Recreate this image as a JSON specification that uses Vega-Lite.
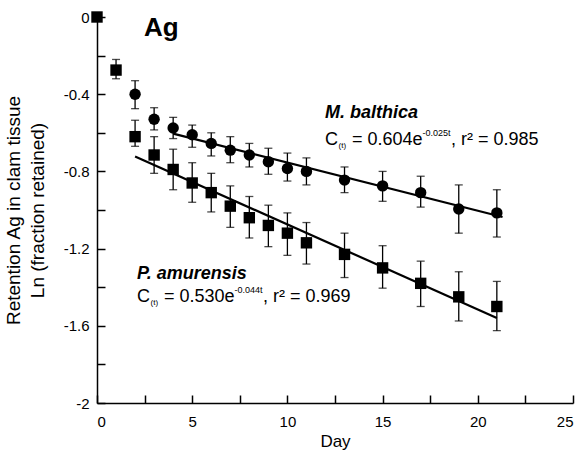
{
  "$schema": "https://vega.github.io/schema/vega-lite/v6.json",
  "autosize": {"type": "none"},
  "padding": {"left": 97, "top": 17, "right": 10, "bottom": 49},
  "width": 476,
  "height": 386,
  "background": "white",
  "config": {
    "view": {"stroke": null},
    "font": "Liberation Sans",
    "axis": {
      "domainColor": "black", "domainWidth": 1.5, "tickColor": "black", "tickWidth": 1.5,
      "labelColor": "black", "titleColor": "black", "labelFont": "Liberation Sans", "titleFont": "Liberation Sans",
      "labelFontSize": 15, "titleFontSize": 17, "titleFontWeight": "normal", "grid": false
    }
  },
  "resolve": {"axis": {"x": "independent", "y": "independent"}},
  "datasets": {
    "obs": [
      {"species": "P. amurensis", "day": 0, "mean": 0},
      {"species": "P. amurensis", "day": 1, "mean": -0.275, "lo": -0.22, "hi": -0.32},
      {"species": "P. amurensis", "day": 2, "mean": -0.62, "lo": -0.535, "hi": -0.67},
      {"species": "P. amurensis", "day": 3, "mean": -0.715, "lo": -0.62, "hi": -0.81},
      {"species": "P. amurensis", "day": 4, "mean": -0.79, "lo": -0.685, "hi": -0.895},
      {"species": "P. amurensis", "day": 5, "mean": -0.86, "lo": -0.755, "hi": -0.96},
      {"species": "P. amurensis", "day": 6, "mean": -0.91, "lo": -0.81, "hi": -1.01},
      {"species": "P. amurensis", "day": 7, "mean": -0.98, "lo": -0.875, "hi": -1.09},
      {"species": "P. amurensis", "day": 8, "mean": -1.04, "lo": -0.93, "hi": -1.145},
      {"species": "P. amurensis", "day": 9, "mean": -1.08, "lo": -0.975, "hi": -1.19},
      {"species": "P. amurensis", "day": 10, "mean": -1.12, "lo": -1.015, "hi": -1.235},
      {"species": "P. amurensis", "day": 11, "mean": -1.17, "lo": -1.065, "hi": -1.28},
      {"species": "P. amurensis", "day": 13, "mean": -1.23, "lo": -1.12, "hi": -1.35},
      {"species": "P. amurensis", "day": 15, "mean": -1.30, "lo": -1.185, "hi": -1.405},
      {"species": "P. amurensis", "day": 17, "mean": -1.38, "lo": -1.265, "hi": -1.50},
      {"species": "P. amurensis", "day": 19, "mean": -1.45, "lo": -1.32, "hi": -1.575},
      {"species": "P. amurensis", "day": 21, "mean": -1.50, "lo": -1.37, "hi": -1.625},
      {"species": "M. balthica", "day": 2, "mean": -0.40, "lo": -0.33, "hi": -0.475},
      {"species": "M. balthica", "day": 3, "mean": -0.53, "lo": -0.47, "hi": -0.585},
      {"species": "M. balthica", "day": 4, "mean": -0.575, "lo": -0.52, "hi": -0.63},
      {"species": "M. balthica", "day": 5, "mean": -0.61, "lo": -0.56, "hi": -0.675},
      {"species": "M. balthica", "day": 6, "mean": -0.655, "lo": -0.60, "hi": -0.72},
      {"species": "M. balthica", "day": 7, "mean": -0.69, "lo": -0.62, "hi": -0.755},
      {"species": "M. balthica", "day": 8, "mean": -0.715, "lo": -0.655, "hi": -0.777},
      {"species": "M. balthica", "day": 9, "mean": -0.75, "lo": -0.68, "hi": -0.815},
      {"species": "M. balthica", "day": 10, "mean": -0.785, "lo": -0.705, "hi": -0.85},
      {"species": "M. balthica", "day": 11, "mean": -0.80, "lo": -0.73, "hi": -0.87},
      {"species": "M. balthica", "day": 13, "mean": -0.845, "lo": -0.777, "hi": -0.91},
      {"species": "M. balthica", "day": 15, "mean": -0.875, "lo": -0.80, "hi": -0.955},
      {"species": "M. balthica", "day": 17, "mean": -0.91, "lo": -0.825, "hi": -0.985},
      {"species": "M. balthica", "day": 19, "mean": -0.995, "lo": -0.87, "hi": -1.12},
      {"species": "M. balthica", "day": 21, "mean": -1.015, "lo": -0.895, "hi": -1.14}
    ],
    "fits": [
      {"species": "M. balthica", "day": 4, "value": -0.604},
      {"species": "M. balthica", "day": 21.3, "value": -1.036},
      {"species": "P. amurensis", "day": 2, "value": -0.723},
      {"species": "P. amurensis", "day": 21, "value": -1.559}
    ],
    "panel": [{"text": "Ag", "x": 2.47, "y": -0.098}],
    "names": [
      {"text": "M. balthica", "x": 11.975, "y": -0.523},
      {"text": "P. amurensis", "x": 2.101, "y": -1.357}
    ],
    "eqmain": [
      {"text": "C", "x": 11.975, "y": -0.663},
      {"text": "= 0.604e", "x": 13.393, "y": -0.663},
      {"text": ", r² = 0.985", "x": 18.592, "y": -0.663},
      {"text": "C", "x": 2.101, "y": -1.477},
      {"text": "= 0.530e", "x": 3.519, "y": -1.477},
      {"text": ", r² = 0.969", "x": 8.718, "y": -1.477}
    ],
    "eqsub": [
      {"text": "(t)", "x": 12.684, "y": -0.679},
      {"text": "(t)", "x": 2.810, "y": -1.492}
    ],
    "eqsup": [
      {"text": "-0.025t", "x": 17.101, "y": -0.617},
      {"text": "-0.044t", "x": 7.227, "y": -1.430}
    ]
  },
  "layer": [
    {
      "data": {"name": "obs"},
      "transform": [{"filter": "isValid(datum.lo)"}],
      "mark": {"type": "rule", "color": "black", "strokeWidth": 1.3},
      "encoding": {
        "x": {"field": "day", "type": "quantitative", "scale": {"domain": [0, 25], "nice": false},
          "axis": {"title": "Day", "values": [0, 5, 10, 15, 20, 25], "ticks": false, "labelPadding": 11, "titlePadding": 4}},
        "y": {"field": "lo", "type": "quantitative", "scale": {"domain": [-2, 0], "nice": false},
          "axis": {"title": ["Retention Ag in clam tissue", "Ln (fraction retained)"], "titleFontSize": 19, "titleLineHeight": 24,
            "values": [0, -0.4, -0.8, -1.2, -1.6, -2],
            "labelExpr": "replace(format(datum.value, '~g'), '−', '-')",
            "ticks": false, "labelPadding": 8, "titlePadding": 16}},
        "y2": {"field": "hi"}
      }
    },
    {
      "data": {"name": "obs"},
      "transform": [{"filter": "isValid(datum.lo)"}],
      "mark": {"type": "tick", "orient": "horizontal", "color": "black", "size": 8, "thickness": 1.3},
      "encoding": {
        "x": {"field": "day", "type": "quantitative",
          "axis": {"orient": "top", "offset": -386, "values": [0, 2.5, 5, 7.5, 10, 12.5, 15, 17.5, 20, 22.5, 25], "labels": false, "domain": false, "title": null, "tickSize": 8}},
        "y": {"field": "lo", "type": "quantitative",
          "axis": {"orient": "right", "offset": -476, "values": [0, -0.2, -0.4, -0.6, -0.8, -1, -1.2, -1.4, -1.6, -1.8, -2], "labels": false, "domain": false, "title": null, "tickSize": 8}}
      }
    },
    {
      "data": {"name": "obs"},
      "transform": [{"filter": "isValid(datum.hi)"}],
      "mark": {"type": "tick", "orient": "horizontal", "color": "black", "size": 8, "thickness": 1.3},
      "encoding": {
        "x": {"field": "day", "type": "quantitative", "axis": null},
        "y": {"field": "hi", "type": "quantitative", "axis": null}
      }
    },
    {
      "data": {"name": "fits"},
      "mark": {"type": "line", "color": "black", "strokeWidth": 2.2},
      "encoding": {
        "x": {"field": "day", "type": "quantitative", "axis": null},
        "y": {"field": "value", "type": "quantitative", "axis": null},
        "detail": {"field": "species"}
      }
    },
    {
      "data": {"name": "obs"},
      "mark": {"type": "point", "filled": true, "color": "black", "opacity": 1, "size": 130},
      "encoding": {
        "x": {"field": "day", "type": "quantitative", "axis": null},
        "y": {"field": "mean", "type": "quantitative", "axis": null},
        "shape": {"field": "species", "type": "nominal", "scale": {"domain": ["M. balthica", "P. amurensis"], "range": ["circle", "square"]}, "legend": null}
      }
    },
    {
      "data": {"name": "panel"},
      "mark": {"type": "text", "font": "Liberation Sans", "fontSize": 26, "fontWeight": "bold", "align": "left", "baseline": "alphabetic", "color": "black"},
      "encoding": {"x": {"field": "x", "type": "quantitative", "axis": null}, "y": {"field": "y", "type": "quantitative", "axis": null}, "text": {"field": "text"}}
    },
    {
      "data": {"name": "names"},
      "mark": {"type": "text", "font": "Liberation Sans", "fontSize": 18, "fontWeight": "bold", "fontStyle": "italic", "align": "left", "baseline": "alphabetic", "color": "black"},
      "encoding": {"x": {"field": "x", "type": "quantitative", "axis": null}, "y": {"field": "y", "type": "quantitative", "axis": null}, "text": {"field": "text"}}
    },
    {
      "data": {"name": "eqmain"},
      "mark": {"type": "text", "font": "Liberation Sans", "fontSize": 18, "align": "left", "baseline": "alphabetic", "color": "black"},
      "encoding": {"x": {"field": "x", "type": "quantitative", "axis": null}, "y": {"field": "y", "type": "quantitative", "axis": null}, "text": {"field": "text"}}
    },
    {
      "data": {"name": "eqsub"},
      "mark": {"type": "text", "font": "Liberation Sans", "fontSize": 8, "align": "left", "baseline": "alphabetic", "color": "black"},
      "encoding": {"x": {"field": "x", "type": "quantitative", "axis": null}, "y": {"field": "y", "type": "quantitative", "axis": null}, "text": {"field": "text"}}
    },
    {
      "data": {"name": "eqsup"},
      "mark": {"type": "text", "font": "Liberation Sans", "fontSize": 9, "align": "left", "baseline": "alphabetic", "color": "black"},
      "encoding": {"x": {"field": "x", "type": "quantitative", "axis": null}, "y": {"field": "y", "type": "quantitative", "axis": null}, "text": {"field": "text"}}
    }
  ]
}
